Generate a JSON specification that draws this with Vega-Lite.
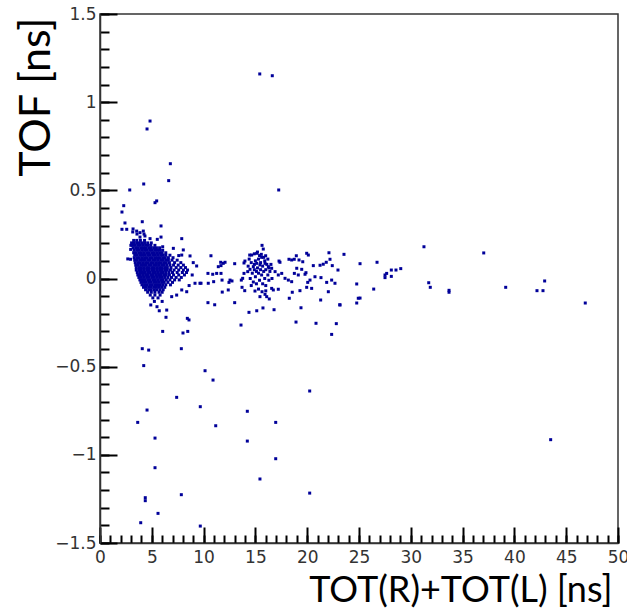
{
  "$schema": "https://vega.github.io/schema/vega-lite/v6.json",
  "width": 518,
  "height": 529,
  "autosize": "none",
  "padding": {"left": 100, "top": 14, "right": 9, "bottom": 69},
  "background": "white",
  "config": {"view": {"stroke": "#333", "strokeWidth": 1.5}},
  "data": {"values": [
    {"tot":3.25,"tof":0.216},{"tot":3.55,"tof":0.216},{"tot":3.9,"tof":0.216},{"tot":4.3,"tof":0.216},
    {"tot":3.05,"tof":0.202},{"tot":3.3,"tof":0.202},{"tot":3.55,"tof":0.202},{"tot":3.8,"tof":0.202},{"tot":4.05,"tof":0.202},{"tot":4.3,"tof":0.202},{"tot":4.6,"tof":0.202},{"tot":4.95,"tof":0.202},
    {"tot":3.15,"tof":0.188},{"tot":3.4,"tof":0.188},{"tot":3.65,"tof":0.188},{"tot":3.9,"tof":0.188},{"tot":4.15,"tof":0.188},{"tot":4.4,"tof":0.188},{"tot":4.65,"tof":0.188},{"tot":4.9,"tof":0.188},{"tot":5.3,"tof":0.188},
    {"tot":3.2,"tof":0.174},{"tot":3.45,"tof":0.174},{"tot":3.7,"tof":0.174},{"tot":3.95,"tof":0.174},{"tot":4.2,"tof":0.174},{"tot":4.45,"tof":0.174},{"tot":4.7,"tof":0.174},{"tot":4.95,"tof":0.174},{"tot":5.2,"tof":0.174},{"tot":5.45,"tof":0.174},{"tot":5.75,"tof":0.174},
    {"tot":3.3,"tof":0.16},{"tot":3.55,"tof":0.16},{"tot":3.8,"tof":0.16},{"tot":4.05,"tof":0.16},{"tot":4.3,"tof":0.16},{"tot":4.55,"tof":0.16},{"tot":4.8,"tof":0.16},{"tot":5.05,"tof":0.16},{"tot":5.3,"tof":0.16},{"tot":5.55,"tof":0.16},{"tot":5.8,"tof":0.16},{"tot":6.05,"tof":0.16},
    {"tot":3.25,"tof":0.146},{"tot":3.5,"tof":0.146},{"tot":3.75,"tof":0.146},{"tot":4.0,"tof":0.146},{"tot":4.25,"tof":0.146},{"tot":4.5,"tof":0.146},{"tot":4.75,"tof":0.146},{"tot":5.0,"tof":0.146},{"tot":5.25,"tof":0.146},{"tot":5.5,"tof":0.146},{"tot":5.75,"tof":0.146},{"tot":6.0,"tof":0.146},{"tot":6.35,"tof":0.146},
    {"tot":3.35,"tof":0.132},{"tot":3.6,"tof":0.132},{"tot":3.85,"tof":0.132},{"tot":4.1,"tof":0.132},{"tot":4.35,"tof":0.132},{"tot":4.6,"tof":0.132},{"tot":4.85,"tof":0.132},{"tot":5.1,"tof":0.132},{"tot":5.35,"tof":0.132},{"tot":5.6,"tof":0.132},{"tot":5.85,"tof":0.132},{"tot":6.1,"tof":0.132},{"tot":6.35,"tof":0.132},{"tot":6.75,"tof":0.132},
    {"tot":3.3,"tof":0.118},{"tot":3.55,"tof":0.118},{"tot":3.8,"tof":0.118},{"tot":4.05,"tof":0.118},{"tot":4.3,"tof":0.118},{"tot":4.55,"tof":0.118},{"tot":4.8,"tof":0.118},{"tot":5.05,"tof":0.118},{"tot":5.3,"tof":0.118},{"tot":5.55,"tof":0.118},{"tot":5.8,"tof":0.118},{"tot":6.05,"tof":0.118},{"tot":6.3,"tof":0.118},{"tot":6.6,"tof":0.118},{"tot":7.05,"tof":0.118},
    {"tot":3.35,"tof":0.104},{"tot":3.6,"tof":0.104},{"tot":3.85,"tof":0.104},{"tot":4.1,"tof":0.104},{"tot":4.35,"tof":0.104},{"tot":4.6,"tof":0.104},{"tot":4.85,"tof":0.104},{"tot":5.1,"tof":0.104},{"tot":5.35,"tof":0.104},{"tot":5.6,"tof":0.104},{"tot":5.85,"tof":0.104},{"tot":6.1,"tof":0.104},{"tot":6.35,"tof":0.104},{"tot":6.6,"tof":0.104},{"tot":6.95,"tof":0.104},{"tot":7.45,"tof":0.104},
    {"tot":3.4,"tof":0.09},{"tot":3.65,"tof":0.09},{"tot":3.9,"tof":0.09},{"tot":4.15,"tof":0.09},{"tot":4.4,"tof":0.09},{"tot":4.65,"tof":0.09},{"tot":4.9,"tof":0.09},{"tot":5.15,"tof":0.09},{"tot":5.4,"tof":0.09},{"tot":5.65,"tof":0.09},{"tot":5.9,"tof":0.09},{"tot":6.15,"tof":0.09},{"tot":6.4,"tof":0.09},{"tot":6.7,"tof":0.09},{"tot":7.2,"tof":0.09},{"tot":7.8,"tof":0.09},
    {"tot":3.45,"tof":0.076},{"tot":3.7,"tof":0.076},{"tot":3.95,"tof":0.076},{"tot":4.2,"tof":0.076},{"tot":4.45,"tof":0.076},{"tot":4.7,"tof":0.076},{"tot":4.95,"tof":0.076},{"tot":5.2,"tof":0.076},{"tot":5.45,"tof":0.076},{"tot":5.7,"tof":0.076},{"tot":5.95,"tof":0.076},{"tot":6.2,"tof":0.076},{"tot":6.45,"tof":0.076},{"tot":6.75,"tof":0.076},{"tot":7.1,"tof":0.076},{"tot":7.55,"tof":0.076},{"tot":8.05,"tof":0.076},
    {"tot":3.5,"tof":0.062},{"tot":3.75,"tof":0.062},{"tot":4.0,"tof":0.062},{"tot":4.25,"tof":0.062},{"tot":4.5,"tof":0.062},{"tot":4.75,"tof":0.062},{"tot":5.0,"tof":0.062},{"tot":5.25,"tof":0.062},{"tot":5.5,"tof":0.062},{"tot":5.75,"tof":0.062},{"tot":6.0,"tof":0.062},{"tot":6.25,"tof":0.062},{"tot":6.5,"tof":0.062},{"tot":6.85,"tof":0.062},{"tot":7.35,"tof":0.062},{"tot":7.8,"tof":0.062},{"tot":8.25,"tof":0.062},
    {"tot":3.5,"tof":0.048},{"tot":3.75,"tof":0.048},{"tot":4.0,"tof":0.048},{"tot":4.25,"tof":0.048},{"tot":4.5,"tof":0.048},{"tot":4.75,"tof":0.048},{"tot":5.0,"tof":0.048},{"tot":5.25,"tof":0.048},{"tot":5.5,"tof":0.048},{"tot":5.75,"tof":0.048},{"tot":6.0,"tof":0.048},{"tot":6.25,"tof":0.048},{"tot":6.5,"tof":0.048},{"tot":6.8,"tof":0.048},{"tot":7.15,"tof":0.048},{"tot":7.6,"tof":0.048},{"tot":8.05,"tof":0.048},{"tot":8.45,"tof":0.048},
    {"tot":3.6,"tof":0.034},{"tot":3.85,"tof":0.034},{"tot":4.1,"tof":0.034},{"tot":4.35,"tof":0.034},{"tot":4.6,"tof":0.034},{"tot":4.85,"tof":0.034},{"tot":5.1,"tof":0.034},{"tot":5.35,"tof":0.034},{"tot":5.6,"tof":0.034},{"tot":5.85,"tof":0.034},{"tot":6.1,"tof":0.034},{"tot":6.35,"tof":0.034},{"tot":6.65,"tof":0.034},{"tot":7.0,"tof":0.034},{"tot":7.45,"tof":0.034},{"tot":7.95,"tof":0.034},{"tot":8.35,"tof":0.034},
    {"tot":3.65,"tof":0.02},{"tot":3.9,"tof":0.02},{"tot":4.15,"tof":0.02},{"tot":4.4,"tof":0.02},{"tot":4.65,"tof":0.02},{"tot":4.9,"tof":0.02},{"tot":5.15,"tof":0.02},{"tot":5.4,"tof":0.02},{"tot":5.65,"tof":0.02},{"tot":5.9,"tof":0.02},{"tot":6.15,"tof":0.02},{"tot":6.4,"tof":0.02},{"tot":6.7,"tof":0.02},{"tot":7.1,"tof":0.02},{"tot":7.6,"tof":0.02},{"tot":8.15,"tof":0.02},
    {"tot":3.75,"tof":0.006},{"tot":4.0,"tof":0.006},{"tot":4.25,"tof":0.006},{"tot":4.5,"tof":0.006},{"tot":4.75,"tof":0.006},{"tot":5.0,"tof":0.006},{"tot":5.25,"tof":0.006},{"tot":5.5,"tof":0.006},{"tot":5.75,"tof":0.006},{"tot":6.0,"tof":0.006},{"tot":6.25,"tof":0.006},{"tot":6.55,"tof":0.006},{"tot":6.9,"tof":0.006},{"tot":7.35,"tof":0.006},{"tot":7.85,"tof":0.006},
    {"tot":3.85,"tof":-0.008},{"tot":4.1,"tof":-0.008},{"tot":4.35,"tof":-0.008},{"tot":4.6,"tof":-0.008},{"tot":4.85,"tof":-0.008},{"tot":5.1,"tof":-0.008},{"tot":5.35,"tof":-0.008},{"tot":5.6,"tof":-0.008},{"tot":5.85,"tof":-0.008},{"tot":6.1,"tof":-0.008},{"tot":6.4,"tof":-0.008},{"tot":6.75,"tof":-0.008},{"tot":7.2,"tof":-0.008},{"tot":7.65,"tof":-0.008},
    {"tot":3.95,"tof":-0.022},{"tot":4.2,"tof":-0.022},{"tot":4.45,"tof":-0.022},{"tot":4.7,"tof":-0.022},{"tot":4.95,"tof":-0.022},{"tot":5.2,"tof":-0.022},{"tot":5.45,"tof":-0.022},{"tot":5.7,"tof":-0.022},{"tot":5.95,"tof":-0.022},{"tot":6.2,"tof":-0.022},{"tot":6.55,"tof":-0.022},{"tot":7.0,"tof":-0.022},
    {"tot":4.05,"tof":-0.036},{"tot":4.3,"tof":-0.036},{"tot":4.55,"tof":-0.036},{"tot":4.8,"tof":-0.036},{"tot":5.05,"tof":-0.036},{"tot":5.3,"tof":-0.036},{"tot":5.55,"tof":-0.036},{"tot":5.8,"tof":-0.036},{"tot":6.05,"tof":-0.036},{"tot":6.35,"tof":-0.036},{"tot":6.8,"tof":-0.036},
    {"tot":4.2,"tof":-0.05},{"tot":4.45,"tof":-0.05},{"tot":4.7,"tof":-0.05},{"tot":4.95,"tof":-0.05},{"tot":5.2,"tof":-0.05},{"tot":5.45,"tof":-0.05},{"tot":5.7,"tof":-0.05},{"tot":5.95,"tof":-0.05},{"tot":6.25,"tof":-0.05},
    {"tot":4.4,"tof":-0.064},{"tot":4.7,"tof":-0.064},{"tot":4.95,"tof":-0.064},{"tot":5.25,"tof":-0.064},{"tot":5.5,"tof":-0.064},{"tot":5.8,"tof":-0.064},{"tot":6.1,"tof":-0.064},
    {"tot":4.6,"tof":-0.078},{"tot":4.95,"tof":-0.078},{"tot":5.3,"tof":-0.078},{"tot":5.7,"tof":-0.078},{"tot":6.0,"tof":-0.078},
    {"tot":4.85,"tof":-0.094},{"tot":5.3,"tof":-0.094},{"tot":5.8,"tof":-0.094},
    {"tot":5.1,"tof":-0.11},{"tot":5.6,"tof":-0.11},{"tot":5.25,"tof":-0.13},{"tot":6.0,"tof":-0.13},
    {"tot":2.68,"tof":0.111},{"tot":2.95,"tof":0.109},{"tot":2.98,"tof":0.188},{"tot":2.96,"tof":0.165},
    {"tot":6.05,"tof":0.18},{"tot":7.08,"tof":0.171},{"tot":8.04,"tof":0.162},{"tot":8.69,"tof":0.128},{"tot":7.89,"tof":0.133},{"tot":9.33,"tof":0.071},{"tot":9.17,"tof":-0.027},{"tot":9.65,"tof":-0.027},{"tot":8.37,"tof":-0.075},{"tot":7.4,"tof":-0.094},{"tot":6.92,"tof":-0.103},{"tot":7.89,"tof":-0.065},
    {"tot":5.72,"tof":-0.183},{"tot":6.44,"tof":-0.179},{"tot":6.37,"tof":-0.22},{"tot":8.43,"tof":-0.226},{"tot":8.59,"tof":-0.235},{"tot":6.05,"tof":-0.3},{"tot":8.01,"tof":-0.309},{"tot":8.47,"tof":-0.3},
    {"tot":5.5,"tof":-0.16},{"tot":4.9,"tof":-0.15},{"tot":8.9,"tof":0.02},{"tot":9.0,"tof":0.09},{"tot":8.6,"tof":-0.04},{"tot":7.6,"tof":0.13},
    {"tot":3.19,"tof":0.281},{"tot":3.54,"tof":0.269},{"tot":3.86,"tof":0.26},{"tot":4.18,"tof":0.269},{"tot":4.25,"tof":0.252},{"tot":3.57,"tof":0.252},{"tot":3.16,"tof":0.264},{"tot":3.86,"tof":0.235},{"tot":4.34,"tof":0.241},
    {"tot":15.42,"tof":1.16},{"tot":16.63,"tof":1.15},{"tot":4.83,"tof":0.893},{"tot":4.54,"tof":0.848},{"tot":6.79,"tof":0.651},{"tot":6.63,"tof":0.555},{"tot":4.22,"tof":0.536},{"tot":2.87,"tof":0.502},{"tot":17.25,"tof":0.502},
    {"tot":5.47,"tof":0.44},{"tot":5.31,"tof":0.43},{"tot":2.29,"tof":0.413},{"tot":2.12,"tof":0.377},{"tot":2.41,"tof":0.315},{"tot":4.08,"tof":0.322},{"tot":5.89,"tof":0.298},{"tot":2.12,"tof":0.279},{"tot":2.58,"tof":0.279},
    {"tot":5.89,"tof":0.235},{"tot":4.83,"tof":0.226},{"tot":7.89,"tof":0.226},{"tot":5.53,"tof":0.222},
    {"tot":4.08,"tof":-0.398},{"tot":4.7,"tof":-0.406},{"tot":7.85,"tof":-0.398},{"tot":4.22,"tof":-0.494},{"tot":10.14,"tof":-0.523},{"tot":10.91,"tof":-0.576},{"tot":20.24,"tof":-0.638},{"tot":7.4,"tof":-0.674},
    {"tot":4.54,"tof":-0.746},{"tot":9.68,"tof":-0.727},{"tot":14.22,"tof":-0.753},{"tot":3.64,"tof":-0.816},{"tot":11.17,"tof":-0.835},{"tot":16.96,"tof":-0.816},{"tot":5.31,"tof":-0.905},{"tot":14.22,"tof":-0.922},
    {"tot":16.96,"tof":-1.022},{"tot":5.31,"tof":-1.073},{"tot":15.44,"tof":-1.137},{"tot":4.37,"tof":-1.243},{"tot":4.37,"tof":-1.26},{"tot":7.85,"tof":-1.226},{"tot":20.24,"tof":-1.217},{"tot":5.6,"tof":-1.332},{"tot":3.93,"tof":-1.385},{"tot":9.68,"tof":-1.404},
    {"tot":43.5,"tof":-0.914},
    {"tot":31.27,"tof":0.18},{"tot":37.04,"tof":0.145},{"tot":25.1,"tof":0.084},{"tot":26.74,"tof":0.092},{"tot":26.42,"tof":-0.06},{"tot":27.51,"tof":0.02},{"tot":27.51,"tof":0.005},{"tot":27.67,"tof":0.029},
    {"tot":28.12,"tof":0.048},{"tot":28.12,"tof":0.012},{"tot":28.57,"tof":0.048},{"tot":29.03,"tof":0.056},{"tot":31.73,"tof":-0.024},{"tot":31.88,"tof":-0.05},{"tot":33.69,"tof":-0.067},{"tot":33.69,"tof":-0.078},
    {"tot":39.16,"tof":-0.05},{"tot":42.18,"tof":-0.069},{"tot":42.76,"tof":-0.069},{"tot":42.92,"tof":-0.014},{"tot":46.84,"tof":-0.139},{"tot":25.1,"tof":-0.111},{"tot":24.78,"tof":-0.139},{"tot":24.93,"tof":-0.112},
    {"tot":23.14,"tof":-0.149},{"tot":22.81,"tof":-0.256},{"tot":22.36,"tof":-0.317},
    {"tot":15.64,"tof":0.188},{"tot":15.76,"tof":0.167},{"tot":10.71,"tof":0.129},{"tot":14.45,"tof":0.133},{"tot":14.64,"tof":0.133},{"tot":15.13,"tof":0.143},{"tot":15.57,"tof":0.137},{"tot":15.99,"tof":0.129},
    {"tot":11.65,"tof":0.092},{"tot":11.9,"tof":0.086},{"tot":12.07,"tof":0.092},{"tot":11.42,"tof":0.067},{"tot":11.68,"tof":0.073},{"tot":13.0,"tof":0.084},{"tot":17.28,"tof":0.099},{"tot":17.37,"tof":0.092},
    {"tot":18.24,"tof":0.109},{"tot":18.5,"tof":0.105},{"tot":18.75,"tof":0.109},{"tot":18.95,"tof":0.129},{"tot":19.21,"tof":0.105},{"tot":19.57,"tof":0.095},{"tot":19.95,"tof":0.143},{"tot":20.11,"tof":0.133},
    {"tot":22.1,"tof":0.146},{"tot":23.55,"tof":0.137},{"tot":21.24,"tof":0.075},{"tot":21.55,"tof":0.081},{"tot":21.84,"tof":0.092},{"tot":22.2,"tof":0.109},{"tot":22.42,"tof":0.073},{"tot":22.97,"tof":0.048},{"tot":20.59,"tof":0.073},
    {"tot":10.42,"tof":0.029},{"tot":10.88,"tof":0.024},{"tot":11.26,"tof":0.029},{"tot":11.68,"tof":0.029},{"tot":10.97,"tof":-0.018},{"tot":10.45,"tof":-0.027},{"tot":11.78,"tof":-0.009},{"tot":12.45,"tof":-0.022},
    {"tot":12.55,"tof":-0.009},{"tot":12.74,"tof":-0.014},{"tot":9.75,"tof":-0.027},{"tot":11.8,"tof":-0.077},{"tot":12.38,"tof":-0.065},{"tot":10.42,"tof":-0.137},{"tot":11.07,"tof":-0.149},{"tot":13.0,"tof":-0.137},
    {"tot":14.38,"tof":-0.192},{"tot":15.13,"tof":-0.183},{"tot":15.73,"tof":-0.167},{"tot":16.8,"tof":-0.177},{"tot":13.61,"tof":-0.264},{"tot":18.92,"tof":-0.247},{"tot":20.85,"tof":-0.254},
    {"tot":13.9,"tof":0.029},{"tot":14.26,"tof":0.039},{"tot":14.48,"tof":0.052},{"tot":14.8,"tof":0.067},{"tot":15.13,"tof":0.086},{"tot":15.44,"tof":0.077},{"tot":15.93,"tof":0.086},{"tot":16.25,"tof":0.067},
    {"tot":16.57,"tof":0.058},{"tot":16.9,"tof":0.039},{"tot":17.21,"tof":0.02},{"tot":17.54,"tof":0.029},{"tot":17.86,"tof":0.001},{"tot":18.18,"tof":-0.009},{"tot":18.5,"tof":-0.018},{"tot":18.76,"tof":0.029},
    {"tot":18.99,"tof":0.058},{"tot":19.14,"tof":0.02},{"tot":19.47,"tof":0.052},{"tot":19.79,"tof":0.024},{"tot":19.88,"tof":0.033},{"tot":20.05,"tof":-0.022},{"tot":20.27,"tof":-0.009},{"tot":20.43,"tof":-0.056},
    {"tot":20.75,"tof":0.01},{"tot":21.33,"tof":0.005},{"tot":21.88,"tof":-0.022},{"tot":22.04,"tof":-0.075},{"tot":22.36,"tof":-0.009},{"tot":22.68,"tof":-0.027},{"tot":24.78,"tof":-0.031},{"tot":21.3,"tof":-0.122},
    {"tot":19.4,"tof":-0.166},{"tot":18.27,"tof":-0.112},{"tot":18.56,"tof":-0.078},{"tot":19.3,"tof":-0.069},{"tot":19.95,"tof":-0.05},{"tot":17.21,"tof":-0.061},{"tot":13.71,"tof":-0.05},{"tot":13.97,"tof":-0.069},
    {"tot":14.96,"tof":-0.071},{"tot":15.64,"tof":-0.075},{"tot":15.93,"tof":-0.09},{"tot":15.44,"tof":-0.103},{"tot":16.09,"tof":-0.103},{"tot":16.34,"tof":-0.116},{"tot":16.57,"tof":-0.056},{"tot":16.73,"tof":-0.065},
    {"tot":13.64,"tof":-0.009},{"tot":13.77,"tof":0.001},{"tot":23.17,"tof":-0.15},{"tot":13.9,"tof":0.088},{"tot":13.99,"tof":0.099},
    {"tot":14.3,"tof":0.07},{"tot":14.5,"tof":0.0},{"tot":14.6,"tof":0.09},{"tot":14.7,"tof":0.03},{"tot":14.8,"tof":-0.02},{"tot":14.9,"tof":0.05},{"tot":15.0,"tof":0.1},{"tot":15.0,"tof":0.01},
    {"tot":15.1,"tof":-0.03},{"tot":15.2,"tof":0.06},{"tot":15.3,"tof":0.03},{"tot":15.3,"tof":0.11},{"tot":15.4,"tof":-0.01},{"tot":15.5,"tof":0.05},{"tot":15.5,"tof":0.09},{"tot":15.6,"tof":0.02},
    {"tot":15.7,"tof":-0.03},{"tot":15.7,"tof":0.07},{"tot":15.8,"tof":0.04},{"tot":15.8,"tof":0.12},{"tot":15.9,"tof":0.0},{"tot":16.0,"tof":0.05},{"tot":16.0,"tof":-0.04},{"tot":16.1,"tof":0.08},
    {"tot":16.2,"tof":0.02},{"tot":16.3,"tof":-0.01},{"tot":16.4,"tof":0.04},{"tot":16.5,"tof":0.08},{"tot":16.6,"tof":0.0},{"tot":14.4,"tof":0.11},{"tot":14.9,"tof":0.14},{"tot":15.2,"tof":0.15},
    {"tot":15.6,"tof":0.12},{"tot":16.2,"tof":0.11},{"tot":14.6,"tof":-0.04},{"tot":15.3,"tof":-0.06},{"tot":16.0,"tof":-0.07},{"tot":14.9,"tof":0.08},{"tot":15.4,"tof":0.13},{"tot":15.1,"tof":0.04},
    {"tot":15.9,"tof":0.1},{"tot":16.3,"tof":0.06}
  ]},
  "layer": [
    {
      "mark": {"type": "square", "size": 9, "opacity": 0},
      "encoding": {
        "x": {
          "field": "tot", "type": "quantitative",
          "scale": {"domain": [0, 50], "nice": false, "zero": false},
          "axis": {
            "orient": "bottom", "title": null, "labels": false, "domain": false, "grid": false, "zindex": 1,
            "values": [0,1,2,3,4,5,6,7,8,9,10,11,12,13,14,15,16,17,18,19,20,21,22,23,24,25,26,27,28,29,30,31,32,33,34,35,36,37,38,39,40,41,42,43,44,45,46,47,48,49,50],
            "ticks": true, "tickSize": -8, "tickColor": "black", "tickWidth": 2, "tickOpacity": 1
          }
        },
        "y": {
          "field": "tof", "type": "quantitative",
          "scale": {"domain": [-1.5, 1.5], "nice": false, "zero": false},
          "axis": {
            "orient": "left", "title": null, "labels": false, "domain": false, "grid": false, "zindex": 1,
            "values": [-1.5,-1.4,-1.3,-1.2,-1.1,-1,-0.9,-0.8,-0.7,-0.6,-0.5,-0.4,-0.3,-0.2,-0.1,0,0.1,0.2,0.3,0.4,0.5,0.6,0.7,0.8,0.9,1,1.1,1.2,1.3,1.4,1.5],
            "ticks": true, "tickSize": -9, "tickColor": "black", "tickWidth": 2, "tickOpacity": 1
          }
        }
      }
    },
    {
      "mark": {"type": "square", "size": 9, "color": "#000099", "opacity": 1},
      "encoding": {
        "x": {
          "field": "tot", "type": "quantitative",
          "scale": {"domain": [0, 50], "nice": false, "zero": false},
          "axis": {
            "orient": "bottom", "zindex": 1,
            "title": "TOT(R)+TOT(L) [ns]",
            "values": [0,5,10,15,20,25,30,35,40,45,50],
            "format": "~g",
            "ticks": true, "tickSize": -16, "tickColor": "black", "tickWidth": 2, "tickOpacity": 1,
            "domainColor": "#333", "domainWidth": 1.5,
            "labelFont": "DejaVu Sans", "labelFontSize": 17, "labelColor": "#333",
            "labelPadding": 22, "labelFlush": false, "labelOverlap": false, "labelBound": false,
            "grid": false,
            "titleFont": "Lato", "titleFontSize": 36, "titleFontWeight": "normal", "titleColor": "black",
            "titleAlign": "right", "titleBaseline": "alphabetic", "titleX": 512, "titleY": 58
          }
        },
        "y": {
          "field": "tof", "type": "quantitative",
          "scale": {"domain": [-1.5, 1.5], "nice": false, "zero": false},
          "axis": {
            "orient": "left", "zindex": 1,
            "title": "TOF [ns]",
            "values": [-1.5,-1,-0.5,0,0.5,1,1.5],
            "format": "~g",
            "ticks": true, "tickSize": -17, "tickColor": "black", "tickWidth": 2, "tickOpacity": 1,
            "domainColor": "#333", "domainWidth": 1.5,
            "labelFont": "DejaVu Sans", "labelFontSize": 17, "labelColor": "#333",
            "labelPadding": 21, "labelFlush": false, "labelOverlap": false, "labelBound": false,
            "grid": false,
            "titleFont": "Lato", "titleFontSize": 43, "titleFontWeight": "normal", "titleColor": "black",
            "titleAngle": -90, "titleAlign": "right", "titleBaseline": "bottom", "titleX": -42, "titleY": 3
          }
        }
      }
    }
  ],
  "resolve": {
    "scale": {"x": "independent", "y": "independent"},
    "axis": {"x": "independent", "y": "independent"}
  }
}
